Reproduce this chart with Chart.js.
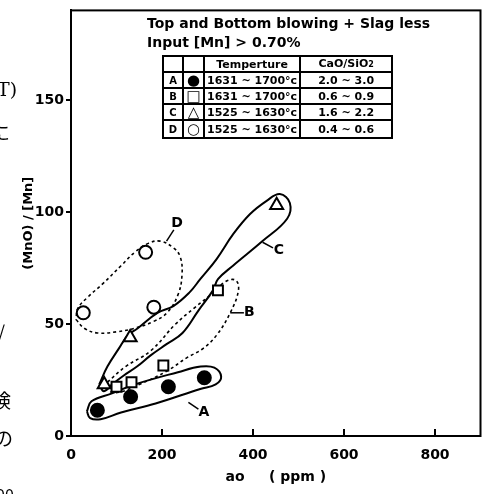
<!DOCTYPE html>
<html>
<head>
<meta charset="utf-8">
<script src="https://cdn.jsdelivr.net/npm/chart.js@4.4.0/dist/chart.umd.min.js"></script>
<style>
  html, body { margin: 0; padding: 0; background: #fff; }
  #wrap { position: relative; width: 490px; height: 494px; overflow: hidden; }
  #c { position: absolute; left: 0; top: 0; }
  .hd { position: absolute; left: 147px; font: bold 14px "DejaVu Sans", sans-serif; white-space: nowrap; color: #000; }
  .side { position: absolute; font-family: "Noto Sans CJK JP", serif; color: #000; white-space: nowrap; }
  table.leg { position: absolute; left: 162px; top: 55px; border-collapse: collapse; table-layout: fixed;
    font: bold 11px "DejaVu Sans", sans-serif; color: #000; background: #fff; }
  table.leg td { border: 2px solid #000; padding: 0 2px; height: 13px; line-height: 13px; white-space: nowrap; overflow: hidden; }
  table.leg td.k { text-align: center; font-size: 10px; }
  table.leg td.s { text-align: center; font-size: 15px; padding: 0; }
  table.leg td.r { text-align: center; }
</style>
</head>
<body>
<div id="wrap">
  <canvas id="c" width="490" height="494"></canvas>
  <div class="hd" style="top:15px">Top and Bottom blowing + Slag less</div>
  <div class="hd" style="top:34px">Input [Mn] &gt; 0.70%</div>
  <table class="leg">
    <colgroup><col style="width:20px"><col style="width:21px"><col style="width:92px"><col style="width:92px"></colgroup>
    <tr style="height:13px"><td></td><td></td><td class="r">Temperture</td><td class="r">CaO/SiO<span style="font-size:8px">2</span></td></tr>
    <tr style="height:16px"><td class="k">A</td><td class="s">●</td><td>1631 ~ 1700°c</td><td class="r">2.0 ~ 3.0</td></tr>
    <tr style="height:16px"><td class="k">B</td><td class="s">□</td><td>1631 ~ 1700°c</td><td class="r">0.6 ~ 0.9</td></tr>
    <tr style="height:16px"><td class="k">C</td><td class="s">△</td><td>1525 ~ 1630°c</td><td class="r">1.6 ~ 2.2</td></tr>
    <tr style="height:18px"><td class="k">D</td><td class="s">○</td><td>1525 ~ 1630°c</td><td class="r">0.4 ~ 0.6</td></tr>
  </table>
  <div class="side" style="left:-3px;top:78px;font-size:19px;font-family:'DejaVu Serif',serif">T)</div>
  <div class="side" style="left:-9px;top:118px;font-size:19px">に</div>
  <div class="side" style="left:-2px;top:318px;font-size:18px">/</div>
  <div class="side" style="left:-8px;top:386px;font-size:19px">検</div>
  <div class="side" style="left:-6px;top:424px;font-size:19px">の</div>
  <div class="side" style="left:-4px;top:482px;font-size:16px">00</div>
</div>
<script>
const aX = [58, 131, 214, 293];
const aY = [11.5, 17.5, 22, 26];
const bX = [100, 133, 203, 323];
const bY = [22, 24, 31.5, 65];
const cX = [73, 130, 452];
const cY = [23, 44, 103];
const dX = [27, 164, 182];
const dY = [55, 82, 57.5];

// hand drawn group outlines (data units)
const outlineA = [[35,11],[45,15.5],[90,19],[140,23],[235,28.5],[285,31],[315,30.5],[330,26.5],[318,23],[284,21],[186,14.5],[110,10.5],[65,7.5],[42,8],[35,11]];
const outlineB = [[80,24],[120,31],[175,38],[230,50],[270,57],[313,64],[340,69],[362,69.5],[368,65],[350,55],[320,45],[290,39],[255,35],[211,29],[150,23],[105,19.5],[85,20],[80,24]];
const outlineC = [[62,23],[80,31],[105,39],[125,45],[146,48],[190,55],[225,58],[260,64],[284,70],[320,79],[356,90],[393,99],[430,105],[459,108],[481,104],[475,97],[421,87],[356,76],[323,70],[312,65],[280,56],[245,46],[210,41],[175,36],[145,31],[116,27],[90,23],[72,20],[62,23]];
const outlineD = [[11,52],[30,48],[58,46],[100,46.5],[138,48],[180,51],[211,55],[235,63],[244,72],[240,80],[225,84],[196,87],[170,86],[140,82],[110,76],[70,68],[37,62],[15,57],[11,52]];

// group letters and their leader lines
const groupNames = ['A', 'B', 'C', 'D'];
const labelX = [292, 392, 457, 233];
const labelY = [10.5, 55, 83, 95];
const leaderFrom = [[258, 15], [350, 55], [421, 86.5], [210, 87]];
const leaderTo = [[280, 12], [380, 55], [444, 84], [226, 92]];

const xTicks = [0, 200, 400, 600, 800];
const yTicks = [0, 50, 100, 150];

const pts = (xs, ys) => xs.map((x, i) => ({ x: x, y: ys[i] }));
const path = arr => arr.map(p => ({ x: p[0], y: p[1] }));

const outline = (arr, dashed) => ({
  data: path(arr),
  showLine: true,
  borderColor: '#000',
  borderWidth: dashed ? 1.6 : 2,
  borderDash: dashed ? [3, 3] : [],
  pointRadius: 0,
  tension: 0.4,
  fill: false,
  order: 2
});

const marker = (data, style, filled, r) => ({
  data: data,
  showLine: false,
  pointStyle: style,
  pointRadius: r,
  pointBorderWidth: 2,
  pointBorderColor: '#000',
  pointBackgroundColor: filled ? '#000' : '#fff',
  order: 1
});

const decor = {
  id: 'decor',
  afterDraw(chart) {
    const { ctx, chartArea: a, scales: { x, y } } = chart;
    ctx.save();
    ctx.strokeStyle = '#000';
    ctx.lineWidth = 2;
    ctx.strokeRect(a.left, a.top, a.right - a.left, a.bottom - a.top);
    // inward ticks on the bottom axis
    xTicks.forEach(v => {
      if (v === 0) return;
      const px = x.getPixelForValue(v);
      ctx.beginPath();
      ctx.moveTo(px, a.bottom);
      ctx.lineTo(px, a.bottom - 7);
      ctx.stroke();
    });
    // group letters
    ctx.lineWidth = 1.5;
    leaderFrom.forEach((f, i) => {
      ctx.beginPath();
      ctx.moveTo(x.getPixelForValue(f[0]), y.getPixelForValue(f[1]));
      ctx.lineTo(x.getPixelForValue(leaderTo[i][0]), y.getPixelForValue(leaderTo[i][1]));
      ctx.stroke();
    });
    ctx.fillStyle = '#000';
    ctx.font = 'bold 14px "DejaVu Sans", sans-serif';
    ctx.textAlign = 'center';
    ctx.textBaseline = 'middle';
    groupNames.forEach((n, i) => {
      ctx.fillText(n, x.getPixelForValue(labelX[i]), y.getPixelForValue(labelY[i]));
    });
    ctx.restore();
  }
};

const tickFont = { family: '"DejaVu Sans", sans-serif', size: 14, weight: 'bold' };

new Chart(document.getElementById('c').getContext('2d'), {
  type: 'scatter',
  data: {
    datasets: [
      marker(pts(aX, aY), 'circle', true, 6.5),
      marker(pts(bX, bY), 'rect', false, 7),
      marker(pts(cX, cY), 'triangle', false, 7.5),
      marker(pts(dX, dY), 'circle', false, 6.5),
      outline(outlineA, false),
      outline(outlineB, true),
      outline(outlineC, false),
      outline(outlineD, true)
    ]
  },
  options: {
    responsive: false,
    animation: false,
    layout: { padding: { top: 7, right: 7, left: 0, bottom: 0 } },
    plugins: { legend: { display: false }, tooltip: { enabled: false } },
    scales: {
      x: {
        type: 'linear', min: 0, max: 900,
        afterBuildTicks: s => { s.ticks = xTicks.map(v => ({ value: v })); },
        afterFit: s => { s.height = 58; },
        ticks: { color: '#000', font: tickFont, padding: 11 },
        grid: { display: false, drawTicks: false },
        border: { color: '#000', width: 2 },
        title: { display: true, text: 'ao     ( ppm )', color: '#000',
          font: { family: '"DejaVu Sans", sans-serif', size: 14, weight: 'bold' },
          padding: { top: 0, bottom: 8 } }
      },
      y: {
        type: 'linear', min: 0, max: 190,
        afterBuildTicks: s => { s.ticks = yTicks.map(v => ({ value: v })); },
        afterFit: s => { s.width = 71; },
        ticks: { color: '#000', font: tickFont, padding: 2 },
        grid: { drawOnChartArea: false, drawTicks: true, tickLength: 5, color: '#000', lineWidth: 2 },
        border: { color: '#000', width: 2 },
        title: { display: true, text: '(MnO) / [Mn]', color: '#000',
          font: { family: '"DejaVu Sans", sans-serif', size: 13, weight: 'bold' },
          padding: { top: 21, bottom: 0 } }
      }
    }
  },
  plugins: [decor]
});
</script>
</body>
</html>
